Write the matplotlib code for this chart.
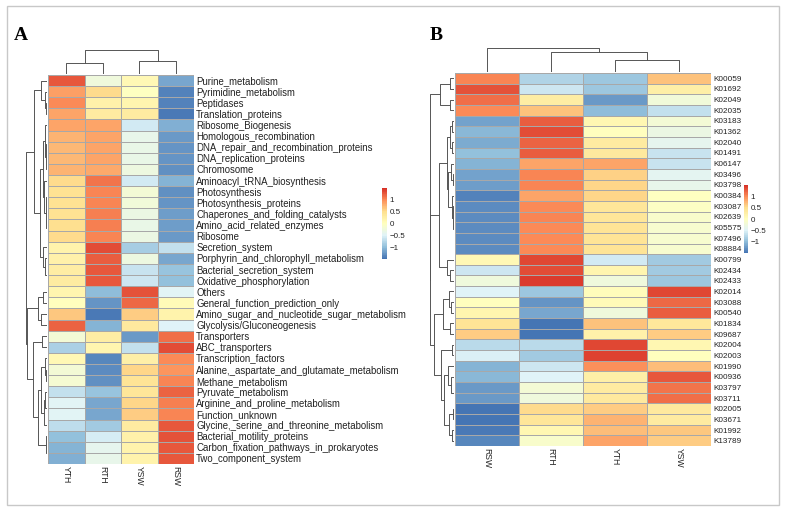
import numpy as np
import matplotlib
matplotlib.use('Agg')
import matplotlib.pyplot as plt
from matplotlib.colors import LinearSegmentedColormap
from matplotlib.patches import Rectangle

plt.rcParams['font.family'] = ['Liberation Sans', 'DejaVu Sans']

# Panel A: KEGG pathways (relative values per row)
cols_a = ['YTH', 'RTH', 'YSW', 'RSW']
rows_a = ['Purine_metabolism', 'Pyrimidine_metabolism', 'Peptidases', 'Translation_proteins',
          'Ribosome_Biogenesis', 'Homologous_recombination', 'DNA_repair_and_recombination_proteins',
          'DNA_replication_proteins', 'Chromosome', 'Aminoacyl_tRNA_biosynthesis', 'Photosynthesis',
          'Photosynthesis_proteins', 'Chaperones_and_folding_catalysts', 'Amino_acid_related_enzymes',
          'Ribosome', 'Secretion_system', 'Porphyrin_and_chlorophyll_metabolism',
          'Bacterial_secretion_system', 'Oxidative_phosphorylation', 'Others',
          'General_function_prediction_only', 'Amino_sugar_and_nucleotide_sugar_metabolism',
          'Glycolysis/Gluconeogenesis', 'Transporters', 'ABC_transporters', 'Transcription_factors',
          'Alanine,_aspartate_and_glutamate_metabolism', 'Methane_metabolism', 'Pyruvate_metabolism',
          'Arginine_and_proline_metabolism', 'Function_unknown',
          'Glycine,_serine_and_threonine_metabolism', 'Bacterial_motility_proteins',
          'Carbon_fixation_pathways_in_prokaryotes', 'Two_component_system']
vals_a = [
    [1.30, -0.15, 0.20, -1.00],
    [0.95, 0.60, 0.05, -1.30],
    [1.10, 0.30, 0.25, -1.30],
    [0.90, 0.35, 0.35, -1.45],
    [0.90, 0.90, -0.50, -1.00],
    [0.80, 0.90, -0.30, -1.15],
    [0.80, 0.90, -0.25, -1.15],
    [0.80, 0.90, -0.25, -1.15],
    [0.85, 0.90, -0.20, -1.20],
    [0.55, 1.10, -0.45, -0.90],
    [0.55, 1.15, -0.10, -1.25],
    [0.55, 1.15, -0.15, -1.25],
    [0.55, 1.15, -0.25, -1.15],
    [0.55, 1.10, -0.30, -1.15],
    [0.55, 1.05, -0.25, -1.15],
    [0.35, 1.40, -0.60, -0.45],
    [0.35, 1.35, -0.15, -1.00],
    [0.40, 1.35, -0.50, -0.80],
    [0.40, 1.35, -0.50, -0.85],
    [0.30, -0.75, 1.35, -0.25],
    [0.15, -1.10, 1.25, 0.20],
    [0.65, -1.45, 0.60, 0.20],
    [1.25, -0.75, 0.50, -0.25],
    [-0.10, 0.35, -1.10, 1.20],
    [-0.60, 0.35, -0.45, 1.45],
    [0.20, -1.20, 0.35, 1.05],
    [-0.10, -1.20, 0.60, 1.00],
    [-0.10, -1.20, 0.50, 1.10],
    [-0.50, -0.75, 0.45, 1.20],
    [-0.35, -1.00, 0.60, 1.10],
    [-0.35, -1.00, 0.65, 1.05],
    [-0.45, -0.60, 0.45, 1.30],
    [-0.75, -0.35, 0.35, 1.30],
    [-0.85, -0.20, 0.35, 1.40],
    [-0.85, -0.20, 0.35, 1.35],
]

# Panel B: KO genes
cols_b = ['RSW', 'RTH', 'YTH', 'YSW']
rows_b = ['K00059', 'K01692', 'K02049', 'K02035', 'K03183', 'K01362', 'K02040', 'K01491',
          'K06147', 'K03496', 'K03798', 'K00384', 'K03087', 'K02639', 'K05575', 'K07496',
          'K08884', 'K00799', 'K02434', 'K02433', 'K02014', 'K03088', 'K00540', 'K01834',
          'K09687', 'K02004', 'K02003', 'K01990', 'K00936', 'K03797', 'K03711', 'K02005',
          'K03671', 'K01992', 'K13789']
vals_b = [
    [0.85, -0.50, -0.60, 0.60],
    [1.20, -0.35, -0.60, 0.35],
    [1.10, 0.35, -1.00, -0.10],
    [0.85, 0.60, -0.65, -0.40],
    [-0.95, 1.25, 0.25, -0.05],
    [-0.75, 1.40, 0.20, -0.10],
    [-0.90, 1.20, 0.40, -0.25],
    [-0.80, 1.20, 0.40, -0.50],
    [-0.85, 0.85, 0.85, -0.50],
    [-0.90, 0.90, 0.55, -0.30],
    [-1.00, 0.95, 0.55, -0.25],
    [-1.30, 0.85, 0.55, 0.00],
    [-1.10, 1.00, 0.45, 0.05],
    [-1.10, 1.00, 0.45, 0.00],
    [-1.10, 0.95, 0.45, -0.05],
    [-1.10, 0.95, 0.45, -0.05],
    [-1.10, 0.95, 0.45, -0.05],
    [0.25, 1.30, -0.35, -0.60],
    [-0.35, 1.30, 0.30, -0.60],
    [-0.05, 1.40, -0.05, -0.60],
    [-0.25, -0.60, 0.20, 1.30],
    [0.20, -0.90, 0.25, 1.20],
    [0.30, -0.80, -0.05, 1.20],
    [0.40, -1.40, 0.65, 0.35],
    [0.65, -1.40, 0.25, 0.65],
    [-0.50, -0.50, 1.30, 0.25],
    [-0.25, -0.55, 1.40, 0.20],
    [-0.70, -0.35, 0.90, 0.70],
    [-0.70, -0.25, 0.40, 1.30],
    [-0.95, -0.05, 0.40, 1.10],
    [-0.95, -0.10, 0.40, 1.10],
    [-1.30, 0.50, 0.60, 0.35],
    [-1.30, 0.40, 0.70, 0.30],
    [-1.20, 0.20, 0.70, 0.65],
    [-1.15, 0.00, 0.85, 0.65],
]

W, H = 786, 511
fig = plt.figure(figsize=(W / 100, H / 100), dpi=100)

# pheatmap default palette
cmap = LinearSegmentedColormap.from_list(
    'pheat', ['#4575B4', '#91BFDB', '#E0F3F8', '#FFFFBF', '#FEE090', '#FC8D59', '#D73027'], N=100)


def px_axes(x0, y0, x1, y1):
    return fig.add_axes([x0 / W, 1 - y1 / H, (x1 - x0) / W, (y1 - y0) / H])


def linkage_in_order(data):
    # complete linkage, only merging neighbours so the tree fits the shown order
    clusters = [[i] for i in range(len(data))]
    pos = [i + 0.5 for i in range(len(data))]
    hts = [0.0] * len(data)
    links = []
    while len(clusters) > 1:
        best = None
        for k in range(len(clusters) - 1):
            a = data[clusters[k]]
            b = data[clusters[k + 1]]
            d = np.sqrt(((a[:, None, :] - b[None, :, :]) ** 2).sum(-1)).max()
            if best is None or d < best[0]:
                best = (d, k)
        d, k = best
        h = max(d, hts[k], hts[k + 1])
        links.append((pos[k], hts[k], pos[k + 1], hts[k + 1], h))
        clusters[k:k + 2] = [clusters[k] + clusters[k + 1]]
        pos[k:k + 2] = [(pos[k] + pos[k + 1]) / 2]
        hts[k:k + 2] = [h]
    return links, hts[0]


def panel(vals, rows, cols, heat, rowden, colden, cbar, row_fs, col_fs):
    m = np.array(vals)
    # scale="row" as in pheatmap
    m = (m - m.mean(axis=1, keepdims=True)) / m.std(axis=1, ddof=1, keepdims=True)
    nr, nc = m.shape

    ax = px_axes(*heat)
    ax.pcolormesh(np.arange(nc + 1), np.arange(nr + 1), m, cmap=cmap, vmin=-1.5, vmax=1.5,
                  edgecolors='#a8a8a8', linewidth=0.4)
    ax.set_xlim(0, nc)
    ax.set_ylim(nr, 0)
    for s in ax.spines.values():
        s.set_visible(False)
    ax.yaxis.tick_right()
    ax.set_yticks(np.arange(nr) + 0.5)
    ax.set_yticklabels(rows, fontsize=row_fs, color='#222222')
    ax.set_xticks(np.arange(nc) + 0.5)
    ax.set_xticklabels(cols, fontsize=col_fs, rotation=270, color='#222222')
    ax.tick_params(length=0, pad=1.5)

    # row dendrogram
    links, top = linkage_in_order(m)
    rd = px_axes(*rowden)
    for p1, h1, p2, h2, h in links:
        rd.plot([h1, h, h, h2], [p1, p1, p2, p2], color='#555555', lw=0.7)
    rd.set_xlim(top * 1.01, 0)
    rd.set_ylim(nr, 0)
    rd.axis('off')

    # column dendrogram
    links, top = linkage_in_order(m.T)
    cd = px_axes(*colden)
    for p1, h1, p2, h2, h in links:
        cd.plot([p1, p1, p2, p2], [h1, h, h, h2], color='#555555', lw=0.7)
    cd.set_xlim(0, nc)
    cd.set_ylim(0, top * 1.01)
    cd.axis('off')

    # colour key
    cax = px_axes(*cbar)
    cb = fig.colorbar(ax.collections[0], cax=cax, ticks=[-1, -0.5, 0, 0.5, 1])
    cb.outline.set_visible(False)
    cb.ax.set_yticklabels(['\u22121', '\u22120.5', '0', '0.5', '1'])
    cb.ax.tick_params(length=0, labelsize=5.8, pad=2, labelcolor='#222222')


panel(vals_a, rows_a, cols_a, (48, 75, 194, 464), (26, 75, 47, 464), (48, 50, 194, 74),
      (382, 188, 387, 259), 6.95, 6.2)
panel(vals_b, rows_b, cols_b, (455, 73, 711, 446), (430, 73, 454, 446), (455, 48, 711, 72),
      (744, 185, 748, 253), 5.9, 6.2)

fig.text(14 / W, 1 - 40 / H, 'A', fontsize=14, fontweight='bold', family='Liberation Serif')
fig.text(430 / W, 1 - 40 / H, 'B', fontsize=14, fontweight='bold', family='Liberation Serif')

fig.patches.append(Rectangle((7 / W, 1 - 505 / H), 772 / W, 499 / H, transform=fig.transFigure,
                             fill=False, edgecolor='#c8c8c8', lw=1))

fig.savefig('out.png', dpi=100)
